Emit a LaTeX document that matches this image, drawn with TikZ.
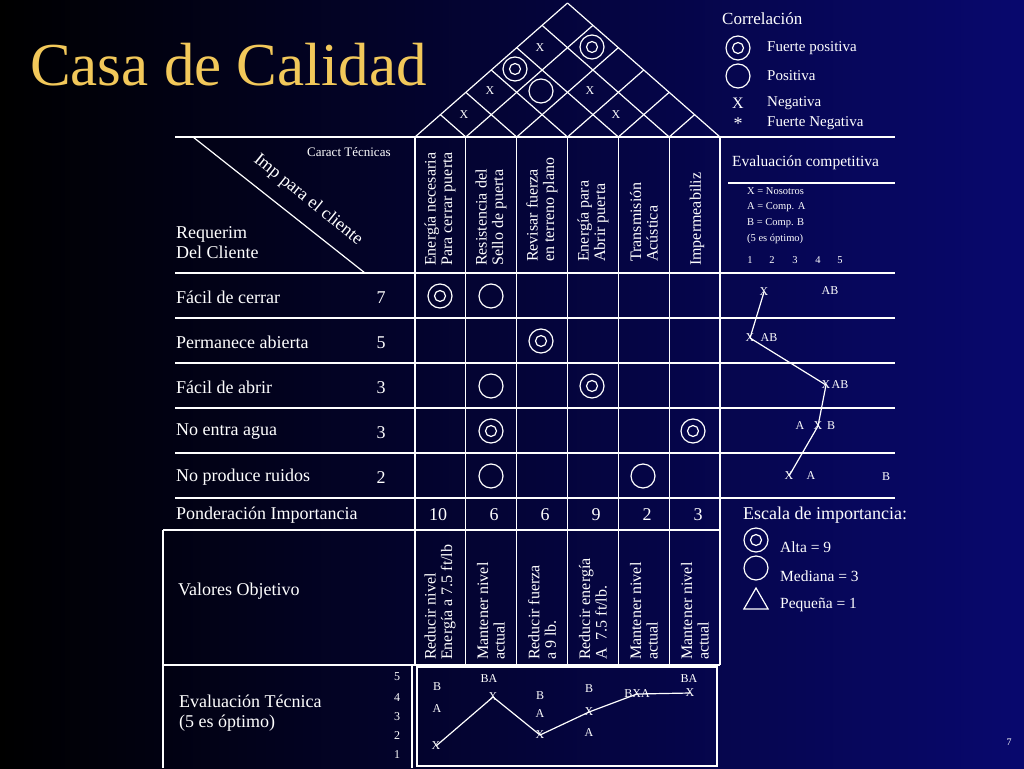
\documentclass[tikz,border=0pt]{standalone}
\usepackage{fontspec}
\setmainfont{Liberation Serif}
\usetikzlibrary{shapes.geometric}
\begin{document}
\begin{tikzpicture}[x=1pt,y=-1pt,
  ln/.style={white,line width=1.2pt},
  txt/.style={text=white,font=\fontsize{18}{20}\selectfont,inner sep=0pt},
  ltxt/.style={txt,anchor=west},
  hdr/.style={text=white,font=\fontsize{16}{16.5}\selectfont,rotate=90,anchor=west,align=left,inner sep=0pt},
  sm/.style={text=white,font=\fontsize{12}{13}\selectfont,inner sep=0pt},
  tiny/.style={text=white,font=\fontsize{10.5}{12}\selectfont,inner sep=0pt,anchor=west},
  circ/.style={circle,draw=white,line width=1.2pt,minimum size=24pt,inner sep=0pt},
  dcirc/.style={circ,path picture={\draw[white,line width=1.2pt] (path picture bounding box.center) circle (5.5pt);}},
  gl/.style={white,line width=1.2pt}]
\shade[left color=black,right color={rgb,255:red,8;green,8;blue,110}] (0,0) rectangle (1024,768);
\useasboundingbox (0,0) rectangle (1024,768);
\node[anchor=west,text={rgb,255:red,242;green,200;blue,90},font=\fontsize{61}{64}\selectfont,inner sep=0pt] (title) at (30,65) {Casa de Calidad};
% roof
\coordinate (apex) at (567,3);
\foreach \i in {0,...,6}{
  \pgfmathsetmacro\xi{415+\i*50.833}
  \pgfmathsetmacro\ru{6-\i}
  \draw[ln] (\xi,137) -- ++(\ru*25.4167,-\ru*22.333);
  \draw[ln] (\xi,137) -- ++(-\i*25.4167,-\i*22.333);
}
% horizontal lines
\foreach \y in {137,273,318,363,408,453,498} \draw[ln] (175,\y) -- (895,\y);
\draw[ln] (163,530) -- (720,530);
\draw[ln] (163,665) -- (720,665);
\draw[ln] (728,183) -- (895,183);
\draw[ln] (163,530) -- (163,768);
\foreach \i in {0,...,6}{\pgfmathsetmacro\xi{415+\i*50.833}\draw[ln] (\xi,137) -- (\xi,665);}
\draw[ln] (193,137) -- (365,273);
% tech eval box
\draw[ln] (412,665) -- (412,768);
\draw[ln] (417,667) rectangle (717,766);
% roof symbols
\node[sm] (r1) at (540,48) {X};
\node[dcirc] (r2) at (592,47) {};
\node[dcirc] (r3) at (515,69) {};
\node[circ] (r4) at (541,91) {};
\node[sm] (r5) at (490,91) {X};
\node[sm] (r6) at (590,91) {X};
\node[sm] (r7) at (464,115) {X};
\node[sm] (r8) at (616,115) {X};
% legend
\node[ltxt,font=\fontsize{17}{19}\selectfont] (corr) at (722,19) {Correlación};
\node[dcirc] (l1) at (738,48) {};
\node[circ] (l2) at (738,76) {};
\node[txt,font=\fontsize{16}{18}\selectfont] (l3) at (738,103) {X};
\node[txt] (l4) at (738,124) {*};
\node[ltxt,font=\fontsize{15}{17}\selectfont] (lt1) at (767,48) {Fuerte positiva};
\node[ltxt,font=\fontsize{15}{17}\selectfont] (lt2) at (767,76) {Positiva};
\node[ltxt,font=\fontsize{15}{17}\selectfont] (lt3) at (767,103) {Negativa};
\node[ltxt,font=\fontsize{15}{17}\selectfont] (lt4) at (767,123) {Fuerte Negativa};
\node[ltxt,font=\fontsize{15.5}{17}\selectfont] (ec) at (732,163) {Evaluación competitiva};
\node[tiny] (e1) at (747,191) {X = Nosotros};
\node[tiny] (e2) at (747,207) {A = Comp. A};
\node[tiny] (e3) at (747,223) {B = Comp. B};
\node[tiny] (e4) at (747,239) {(5 es óptimo)};
\foreach \n/\x in {1/750,2/772,3/795,4/818,5/840} \node[sm,font=\fontsize{10.5}{12}\selectfont] (sc\n) at (\x,260) {\n};
% left headers
\node[sm,anchor=west,font=\fontsize{13}{14}\selectfont] (ct) at (307,152) {Caract Técnicas};
\node[txt,rotate=-39] (imp) at (308,200) {Imp para el cliente};
\node[ltxt,align=left] (req) at (176,243) {Requerim\\Del Cliente};
% column headers
\node[hdr] (h1) at (440,266) {Energía necesaria\\Para cerrar puerta};
\node[hdr] (h2) at (491,266) {Resistencia del\\Sello de puerta};
\node[hdr] (h3) at (542,262) {Revisar fuerza\\en terreno plano};
\node[hdr] (h4) at (593,262) {Energía para\\Abrir puerta};
\node[hdr] (h5) at (644,262) {Transmisión\\Acústica};
\node[hdr] (h6) at (697,266) {Impermeabiliz};
% rows
\node[ltxt] (q1) at (176,297) {Fácil de cerrar};
\node[ltxt] (q2) at (176,342) {Permanece abierta};
\node[ltxt] (q3) at (176,387) {Fácil de abrir};
\node[ltxt] (q4) at (176,432) {No entra agua};
\node[ltxt] (q5) at (176,477) {No produce ruidos};
\node[txt] (w1) at (381,298) {7};
\node[txt] (w2) at (381,343) {5};
\node[txt] (w3) at (381,388) {3};
\node[txt] (w4) at (381,433) {3};
\node[txt] (w5) at (381,478) {2};
% matrix
\node[dcirc] (m11) at (440,296) {};
\node[circ] (m12) at (491,296) {};
\node[dcirc] (m23) at (541,341) {};
\node[circ] (m32) at (491,386) {};
\node[dcirc] (m34) at (592,386) {};
\node[dcirc] (m42) at (491,431) {};
\node[dcirc] (m46) at (693,431) {};
\node[circ] (m52) at (491,476) {};
\node[circ] (m55) at (643,476) {};
% weights
\node[ltxt] (pond) at (176,515) {Ponderación Importancia};
\foreach \n/\v/\x in {1/10/438,2/6/494,3/6/545,4/9/596,5/2/647,6/3/698} \node[txt] (p\n) at (\x,515) {\v};
\node[ltxt] (esc) at (743,515) {Escala de importancia:};
\node[dcirc] (s1) at (756,540) {};
\node[circ] (s2) at (756,568) {};
\node[draw=white,line width=1.2pt,regular polygon,regular polygon sides=3,minimum size=28pt,inner sep=0pt] (s3) at (756,602) {};
\node[ltxt,font=\fontsize{15.5}{17}\selectfont] (st1) at (780,547) {Alta = 9};
\node[ltxt,font=\fontsize{15.5}{17}\selectfont] (st2) at (780,576) {Mediana = 3};
\node[ltxt,font=\fontsize{15.5}{17}\selectfont] (st3) at (780,605) {Pequeña = 1};
% target values
\node[ltxt] (vo) at (178,591) {Valores Objetivo};
\node[hdr] (t1) at (440,660) {Reducir nivel\\Energía a 7.5 ft/lb};
\node[hdr] (t2) at (491,660) {Mantener nivel\\actual};
\node[hdr] (t3) at (542,660) {Reducir fuerza\\a 9 lb.};
\node[hdr] (t4) at (593,660) {Reducir energía\\A\ \ 7.5 ft/lb.};
\node[hdr] (t5) at (644,660) {Mantener nivel\\actual};
\node[hdr] (t6) at (695,660) {Mantener nivel\\actual};
% tech eval
\node[ltxt,align=left] (te) at (179,713) {Evaluación Técnica\\(5 es óptimo)};
\foreach \n/\y in {5/677,4/698,3/717,2/736,1/755} \node[sm] (ts\n) at (397,\y) {\n};
\node[sm] (tx1) at (436,746) {X};
\node[sm] (tx2) at (493,697) {X};
\node[sm] (tx3) at (540,735) {X};
\node[sm] (tx4) at (589,712) {X};
\node[sm] (tx5) at (637,694) {BXA};
\node[sm] (tx6) at (690,693) {X};
\draw[gl] (tx1.center) -- (tx2.center) -- (tx3.center) -- (tx4.center) -- (tx5.center) -- (tx6.center);
\node[sm] (ta1) at (437,687) {B};
\node[sm] (ta2) at (437,709) {A};
\node[sm] (ta3) at (489,679) {BA};
\node[sm] (ta4) at (540,696) {B};
\node[sm] (ta5) at (540,714) {A};
\node[sm] (ta6) at (589,689) {B};
\node[sm] (ta7) at (589,733) {A};
\node[sm] (ta8) at (689,679) {BA};
% competitive eval
\node[sm] (cx1) at (764,292) {X};
\node[sm] (cx2) at (750,338) {X};
\node[sm] (cx3) at (826,385) {X};
\node[sm] (cx4) at (818,426) {X};
\node[sm] (cx5) at (789,476) {X};
\draw[gl] (cx1.center) -- (cx2.center) -- (cx3.center) -- (cx4.center) -- (cx5.center);
\node[sm] (ca1) at (830,291) {AB};
\node[sm] (ca2) at (769,338) {AB};
\node[sm] (ca3) at (840,385) {AB};
\node[sm] (ca4) at (800,426) {A};
\node[sm] (ca5) at (831,426) {B};
\node[sm] (ca6) at (811,476) {A};
\node[sm] (ca7) at (886,477) {B};
\node[sm,font=\fontsize{10}{12}\selectfont] (pg) at (1009,742) {7};
\end{tikzpicture}
\end{document}
